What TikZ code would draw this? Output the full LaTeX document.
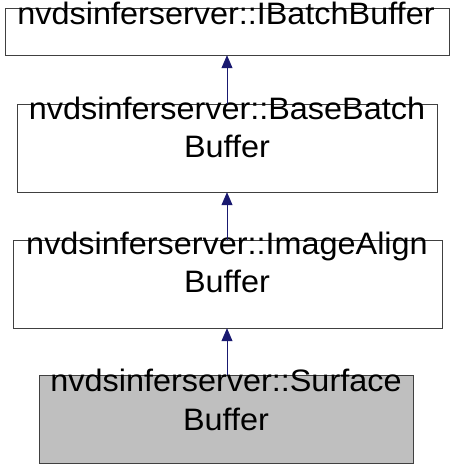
\documentclass[tikz,border=0pt]{standalone}
\usepackage{fontspec}
\setmainfont{Liberation Sans}[FakeStretch=1.045]
\usetikzlibrary{arrows.meta}
\definecolor{edgeblue}{RGB}{25,25,112}
\definecolor{boxline}{RGB}{64,64,64}
\definecolor{boxgrey}{RGB}{191,191,191}
\begin{document}
\begin{tikzpicture}[x=1pt,y=-1pt,
  cls/.style={draw=boxline,line width=1pt,fill=white,inner sep=0pt},
  txt/.style={anchor=base,inner sep=0pt,font=\fontsize{31}{37}\selectfont},
  edgept/.style={inner sep=0pt,minimum size=0pt},
  inherit/.style={draw=edgeblue,line width=0.9pt,-{Triangle[length=13pt,width=11pt]},fill=edgeblue}]
\useasboundingbox (0,0) rectangle (453,469);
% boxes
\path[cls] (5,8) rectangle (449,55);
\path[cls] (17,104) rectangle (437,192);
\path[cls] (13,240) rectangle (442,328);
\path[cls,fill=boxgrey] (39,375) rectangle (413,463);
% named points on the box edges
\node[edgept] (b1bot) at (227,55) {};
\node[edgept] (b2top) at (227,104) {};
\node[edgept] (b2bot) at (227,192) {};
\node[edgept] (b3top) at (227,240) {};
\node[edgept] (b3bot) at (227,328) {};
\node[edgept] (b4top) at (227,375) {};
% texts
\node[txt] (t1) at (226,24) {nvdsinferserver::IBatchBuffer};
\node[txt] (t2a) at (227,119) {nvdsinferserver::BaseBatch};
\node[txt] (t2b) at (227,157) {Buffer};
\node[txt] (t3a) at (227,254) {nvdsinferserver::ImageAlign};
\node[txt] (t3b) at (227,292) {Buffer};
\node[txt] (t4a) at (226,391) {nvdsinferserver::Surface};
\node[txt] (t4b) at (226,430) {Buffer};
% inheritance arrows
\draw[inherit] (b2top) -- (b1bot);
\draw[inherit] (b3top) -- (b2bot);
\draw[inherit] (b4top) -- (b3bot);
\end{tikzpicture}
\end{document}
